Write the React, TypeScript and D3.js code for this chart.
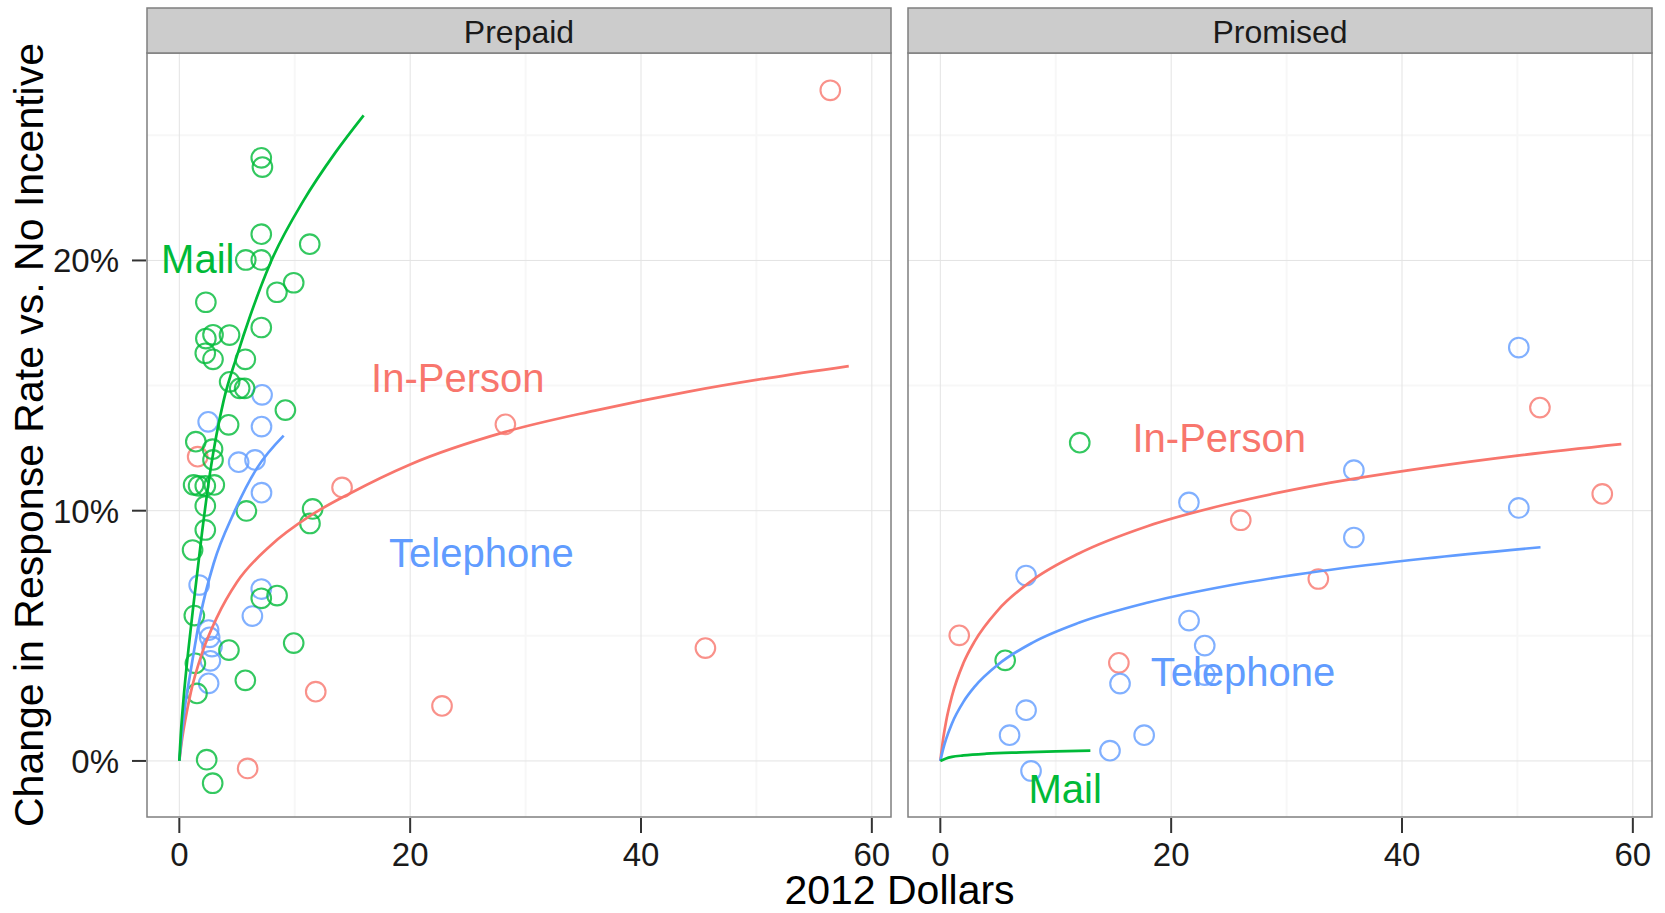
import React from 'react';
import * as d3 from 'd3';

type Pt = [number, number];

const modes = ['In-Person', 'Telephone', 'Mail'];
const modeColors: Record<string, string> = {
    'In-Person': '#F8766D',
    Telephone: '#619CFF',
    Mail: '#00BA38',
};

const xTicks = [0, 20, 40, 60];
const xMinor = [10, 30, 50];
const yTicks = [0, 10, 20];
const yMinor = [5, 15, 25];
const yTickLabels = ['0%', '10%', '20%'];

// Prepaid panel, points (dollars, % change)
const prepaidInPerson: Pt[] = [
    [1.59, 12.16], [14.1, 10.93], [28.25, 13.45], [11.82, 2.77], [22.76, 2.2],
    [5.92, -0.3], [45.58, 4.51], [56.4, 26.8],
];
const prepaidTelephone: Pt[] = [
    [7.17, 14.63], [2.5, 13.55], [7.12, 13.36], [5.14, 11.94], [6.56, 12.03],
    [7.12, 10.72], [1.72, 7.03], [7.1, 6.87], [6.33, 5.79], [2.54, 5.23],
    [2.63, 4.94], [2.83, 4.57], [2.69, 4.0], [2.54, 3.1],
];
const prepaidMail: Pt[] = [
    [7.1, 24.1], [7.2, 23.73], [7.1, 21.05], [11.3, 20.65], [5.76, 20.02],
    [7.1, 20.02], [8.46, 18.73], [9.91, 19.11], [2.3, 18.33], [7.1, 17.32],
    [2.3, 16.88], [2.92, 17.03], [4.35, 17.02], [2.25, 16.29], [2.92, 16.05],
    [5.72, 16.05], [4.36, 15.15], [5.23, 14.89], [5.66, 14.89], [9.19, 14.02],
    [4.27, 13.43], [1.43, 12.76], [2.88, 12.46], [2.92, 12.03], [1.24, 11.03],
    [1.67, 10.99], [2.25, 10.99], [3.03, 11.03], [2.25, 10.19], [5.81, 9.99],
    [11.55, 10.07], [11.32, 9.49], [2.25, 9.23], [1.15, 8.43], [7.1, 6.5],
    [8.47, 6.61], [1.3, 5.81], [4.3, 4.43], [9.91, 4.71], [1.39, 3.9],
    [5.72, 3.22], [1.53, 2.7], [2.37, 0.05], [2.89, -0.89],
];

// Promised panel, points
const promisedInPerson: Pt[] = [
    [51.95, 14.12], [57.35, 10.67], [26.03, 9.62], [32.75, 7.27], [1.64, 5.02],
    [15.47, 3.92],
];
const promisedTelephone: Pt[] = [
    [50.12, 16.52], [35.83, 11.62], [21.54, 10.33], [50.12, 10.11], [35.83, 8.93],
    [7.43, 7.41], [21.55, 5.61], [22.91, 4.61], [22.91, 3.43], [15.57, 3.09],
    [7.43, 2.03], [6.0, 1.03], [17.66, 1.03], [14.7, 0.41], [7.86, -0.4],
];
const promisedMail: Pt[] = [
    [12.08, 12.72], [5.62, 4.02],
];

// fitted curves
const prepaidInPersonFit: Pt[] = [
    [0, 0], [0.25, 0.9], [0.5, 1.6], [1, 2.75], [2, 4.35], [3.27, 5.75], [5, 7.15],
    [7.89, 8.6], [11.35, 9.8], [14.82, 10.7], [20, 11.85], [28.25, 13.15], [36, 14.0],
    [44, 14.75], [51, 15.3], [58, 15.78],
];
const prepaidTelephoneFit: Pt[] = [
    [0, 0], [0.25, 1.2], [0.5, 2.2], [0.95, 3.5], [1.82, 5.8], [2.98, 7.9],
    [4.71, 9.9], [6.73, 11.7], [9.04, 13.0],
];
const prepaidMailFit: Pt[] = [
    [0, 0], [0.12, 1.0], [0.37, 2.5], [0.8, 4.5], [1.24, 6.3], [1.96, 9.1],
    [2.69, 11.6], [3.84, 14.4], [5.0, 16.2], [6.15, 17.8], [7.89, 19.9],
    [10.77, 22.4], [13.5, 24.3], [15.97, 25.8],
];
const promisedInPersonFit: Pt[] = [
    [0, 0], [0.25, 0.9], [0.5, 1.58], [1, 2.58], [2, 3.91], [3, 4.8], [5, 6.03],
    [8, 7.23], [12, 8.29], [18, 9.39], [25, 10.28], [33, 11.05], [42, 11.71],
    [50, 12.2], [59, 12.66],
];
const promisedTelephoneFit: Pt[] = [
    [0, 0], [0.25, 0.48], [0.5, 0.87], [1, 1.49], [2, 2.36], [3, 2.98], [5, 3.85],
    [8, 4.73], [12, 5.52], [18, 6.33], [25, 7.01], [33, 7.59], [42, 8.09], [52, 8.54],
];
const promisedMailFit: Pt[] = [
    [0, 0], [0.5, 0.1], [1, 0.16], [2, 0.22], [4, 0.29], [7, 0.34], [10, 0.38], [13, 0.41],
];

// text labels, at the middle of the capitals
const prepaidLabels = [
    { mode: 'Mail', x: 1.6, y: 20.06 },
    { mode: 'In-Person', x: 24.13, y: 15.32 },
    { mode: 'Telephone', x: 26.17, y: 8.31 },
];
const promisedLabels = [
    { mode: 'In-Person', x: 24.16, y: 12.94 },
    { mode: 'Telephone', x: 26.22, y: 3.57 },
    { mode: 'Mail', x: 10.82, y: -1.12 },
];

const font = '"Liberation Sans", Arial, Helvetica, sans-serif';
const panelW = 744;
const panelTop = 53;
const panelBottom = 817;
const stripTop = 8;

const y = d3.scaleLinear().domain([-2.24, 28.29]).range([panelBottom, panelTop]);

const line = (xs: d3.ScaleLinear<number, number>) => d3.line<Pt>()
    .x((d) => xs(d[0]))
    .y((d) => y(d[1]))
    .curve(d3.curveMonotoneX);

const Panel = ({ x0, title, points, fits, labels, yAxis }: any) => {
    const x = d3.scaleLinear().domain([-2.8, 61.66]).range([x0, x0 + panelW]);
    const gen = line(x);
    return (
        <g>
            <rect x={x0} y={panelTop} width={panelW} height={panelBottom - panelTop} fill="#fff" />
            {xMinor.map((t) => (
                <line key={`xm${t}`} x1={x(t)} x2={x(t)} y1={panelTop} y2={panelBottom} stroke="#F7F7F7" strokeWidth={2} />
            ))}
            {yMinor.map((t) => (
                <line key={`ym${t}`} x1={x0} x2={x0 + panelW} y1={y(t)} y2={y(t)} stroke="#F7F7F7" strokeWidth={2} />
            ))}
            {xTicks.map((t) => (
                <line key={`xg${t}`} x1={x(t)} x2={x(t)} y1={panelTop} y2={panelBottom} stroke="#E3E3E3" strokeWidth={1} />
            ))}
            {yTicks.map((t) => (
                <line key={`yg${t}`} x1={x0} x2={x0 + panelW} y1={y(t)} y2={y(t)} stroke="#E3E3E3" strokeWidth={1} />
            ))}
            {modes.map((m) => points[m].map((p: Pt, i: number) => (
                <circle key={`${m}${i}`} cx={x(p[0])} cy={y(p[1])} r={9.8} fill="none"
                    stroke={modeColors[m]} strokeOpacity={0.8} strokeWidth={2.1} />
            )))}
            {modes.map((m) => (
                <path key={`f${m}`} d={gen(fits[m]) || ''} fill="none" stroke={modeColors[m]} strokeWidth={2.7} />
            ))}
            {labels.map((l: any) => (
                <text key={`l${l.mode}`} x={x(l.x)} y={y(l.y)} dy="0.36em" textAnchor="middle"
                    fontSize={40} fill={modeColors[l.mode]} fontFamily={font}>{l.mode}</text>
            ))}
            <rect x={x0} y={panelTop} width={panelW} height={panelBottom - panelTop} fill="none" stroke="#7F7F7F" strokeWidth={1.5} />
            <rect x={x0} y={stripTop} width={panelW} height={panelTop - stripTop} fill="#CCCCCC" stroke="#7F7F7F" strokeWidth={1.5} />
            <text x={x0 + panelW / 2} y={43} textAnchor="middle" fontSize={32} fontFamily={font} fill="#1a1a1a">{title}</text>
            {xTicks.map((t) => (
                <g key={`xt${t}`}>
                    <line x1={x(t)} x2={x(t)} y1={panelBottom + 1} y2={panelBottom + 16} stroke="#333" strokeWidth={2} />
                    <text x={x(t)} y={866} textAnchor="middle" fontSize={33} fontFamily={font} fill="#1a1a1a">{t}</text>
                </g>
            ))}
            {yAxis && yTicks.map((t, i) => (
                <g key={`yt${t}`}>
                    <line x1={x0 - 15} x2={x0 - 1} y1={y(t)} y2={y(t)} stroke="#333" strokeWidth={2} />
                    <text x={x0 - 28} y={y(t)} dy="0.36em" textAnchor="end" fontSize={33} fontFamily={font} fill="#1a1a1a">{yTickLabels[i]}</text>
                </g>
            ))}
        </g>
    );
};

const App = () => {
    const leftX0 = 147;
    const rightX0 = 908;
    return (
        <svg width={1665} height={913} style={{ position: 'absolute', left: 0, top: 0, display: 'block', background: '#fff' }}>
            <rect width={1665} height={913} fill="#fff" />
            <Panel
                x0={leftX0}
                title="Prepaid"
                yAxis
                points={{ 'In-Person': prepaidInPerson, Telephone: prepaidTelephone, Mail: prepaidMail }}
                fits={{ 'In-Person': prepaidInPersonFit, Telephone: prepaidTelephoneFit, Mail: prepaidMailFit }}
                labels={prepaidLabels}
            />
            <Panel
                x0={rightX0}
                title="Promised"
                points={{ 'In-Person': promisedInPerson, Telephone: promisedTelephone, Mail: promisedMail }}
                fits={{ 'In-Person': promisedInPersonFit, Telephone: promisedTelephoneFit, Mail: promisedMailFit }}
                labels={promisedLabels}
            />
            <text x={(leftX0 + rightX0 + panelW) / 2} y={904} textAnchor="middle" fontSize={41} fontFamily={font} fill="#000">2012 Dollars</text>
            <text transform={`translate(43,${(panelTop + panelBottom) / 2}) rotate(-90)`} textAnchor="middle"
                fontSize={41} fontFamily={font} fill="#000">Change in Response Rate vs. No Incentive</text>
        </svg>
    );
};

export default App;
